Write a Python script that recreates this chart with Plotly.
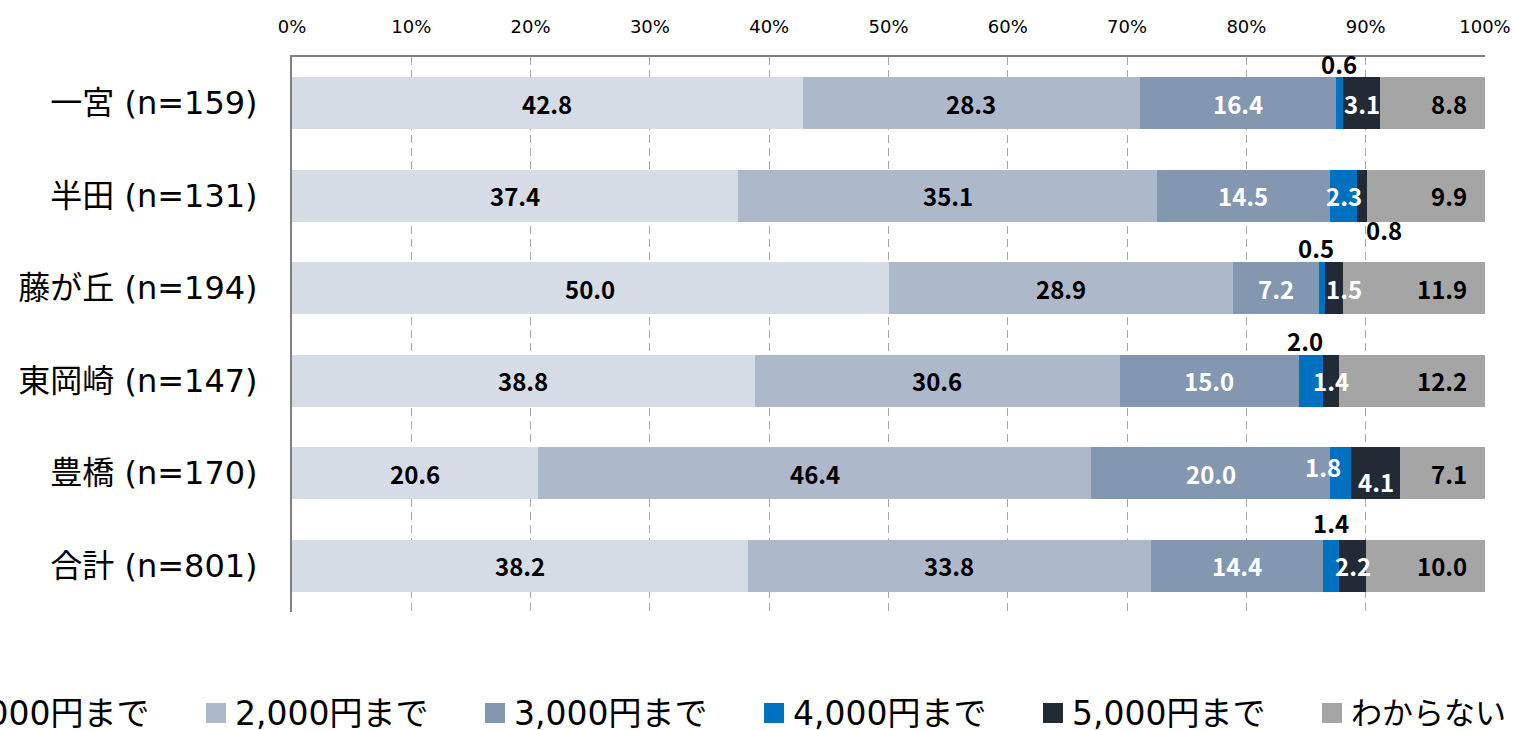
import plotly.graph_objects as go

categories = ["一宮 (n=159)", "半田 (n=131)", "藤が丘 (n=194)", "東岡崎 (n=147)", "豊橋 (n=170)", "合計 (n=801)"]
series_names = ["1,000円まで", "2,000円まで", "3,000円まで", "4,000円まで", "5,000円まで", "わからない"]
v_1000 = [42.8, 37.4, 50.0, 38.8, 20.6, 38.2]
v_2000 = [28.3, 35.1, 28.9, 30.6, 46.4, 33.8]
v_3000 = [16.4, 14.5, 7.2, 15.0, 20.0, 14.4]
v_4000 = [0.6, 2.3, 0.5, 2.0, 1.8, 1.4]
v_5000 = [3.1, 0.8, 1.5, 1.4, 4.1, 2.2]
v_unknown = [8.8, 9.9, 11.9, 12.2, 7.1, 10.0]
x_ticks = [0, 10, 20, 30, 40, 50, 60, 70, 80, 90, 100]

series_values = [v_1000, v_2000, v_3000, v_4000, v_5000, v_unknown]
colors = ["#D6DCE5", "#ADB9CA", "#8497B0", "#0070C0", "#222A35", "#A5A5A5"]
label_colors = ["#000000", "#000000", "#FFFFFF", "#FFFFFF", "#FFFFFF", "#000000"]
legend_font_sizes = [33, 33, 33, 33, 33, 31]

# manual label adjustments (series index, category index) -> (xshift, yshift, color)
label_adjust = {
    (3, 0): (0, 40, "#000000"),
    (4, 1): (22, -34, "#000000"),
    (3, 2): (-6, 41, "#000000"),
    (3, 3): (-6, 40, "#000000"),
    (3, 5): (0, 43, "#000000"),
    (3, 4): (-18, 7, "#FFFFFF"),
    (4, 4): (0, -8, "#FFFFFF"),
    (4, 2): (10, 0, "#FFFFFF"),
}

LAT = "DejaVu Sans, Noto Sans CJK JP"
LBL = "Noto Sans CJK JP"
W, H = 1515, 730
ML, MR, MT, MB = 292, 30, 57, 118
PW, PH = W - ML - MR, H - MT - MB

fig = go.Figure()
for name, vals, c in zip(series_names, series_values, colors):
    fig.add_trace(go.Bar(
        y=categories, x=vals, name=name, orientation="h",
        marker=dict(color=c, line=dict(width=0)),
        showlegend=False, hoverinfo="x+name",
    ))

annotations = []
cum = [0.0] * len(categories)
for si, vals in enumerate(series_values):
    for ci, v in enumerate(vals):
        center = cum[ci] + v / 2
        xs, ys, col = label_adjust.get((si, ci), (0, 0, label_colors[si]))
        last = si == len(series_values) - 1
        annotations.append(dict(
            x=100 if last else center, y=categories[ci], xref="x", yref="y", text=f"{v:.1f}",
            showarrow=False, xanchor="right" if last else "center",
            xshift=(-16 if last else 0) + xs, yshift=ys,
            font=dict(family=LBL, size=24, color=col, weight="bold"),
        ))
        cum[ci] += v

# manual legend
shapes = []
leg_y_px = 713
for i, (name, c, fs) in enumerate(zip(series_names, colors, legend_font_sizes)):
    sq_left = -73 + 279 * i
    x0 = (sq_left - ML) / PW
    x1 = (sq_left + 20 - ML) / PW
    y0 = (MT + PH - (leg_y_px + 10)) / PH
    y1 = (MT + PH - (leg_y_px - 10)) / PH
    shapes.append(dict(type="rect", xref="paper", yref="paper", x0=x0, x1=x1, y0=y0, y1=y1,
                       fillcolor=c, line=dict(width=0)))
    annotations.append(dict(
        x=(sq_left + 27 - ML) / PW, y=(MT + PH - leg_y_px) / PH, xref="paper", yref="paper",
        text=name, showarrow=False, xanchor="left", yanchor="middle",
        font=dict(family=LAT, size=fs, color="#000000"),
    ))

fig.update_layout(
    width=W, height=H,
    margin=dict(l=ML, r=MR, t=MT, b=MB),
    barmode="stack", bargap=0.44,
    plot_bgcolor="white", paper_bgcolor="white",
    annotations=annotations, shapes=shapes,
    font=dict(family=LAT, color="#000000"),
)
fig.update_xaxes(
    side="top", range=[0, 100], tickvals=x_ticks, ticktext=[f"{t}%" for t in x_ticks],
    showgrid=True, gridcolor="#A6A6A6", griddash="8px,5px", gridwidth=1.3,
    showline=True, linecolor="#808080", linewidth=2, zeroline=False, automargin=False,
    tickfont=dict(family=LAT, size=18, color="#000000"), ticks="", ticklabelstandoff=15,
)
fig.update_yaxes(
    range=[len(categories) - 0.5, -0.5], autorange=False, automargin=False,
    showline=True, linecolor="#808080", linewidth=2,
    showgrid=False, tickfont=dict(family=LAT, size=32, color="#000000"),
    ticks="", ticklabelstandoff=26,
)

fig.write_html("out.html", config={"displayModeBar": False},
               post_script="document.body.style.margin='0';")
